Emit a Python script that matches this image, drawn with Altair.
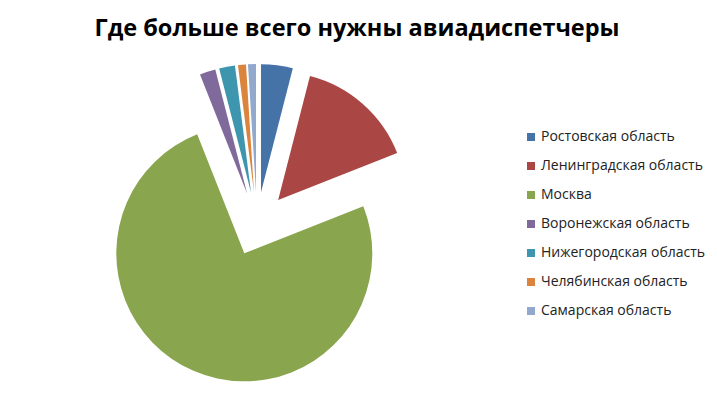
import math
import altair as alt
import pandas as pd

regions = [
    "Ростовская область",
    "Ленинградская область",
    "Москва",
    "Воронежская область",
    "Нижегородская область",
    "Челябинская область",
    "Самарская область",
]
values = [4, 15, 75, 2, 2, 1, 1]
colors = ["#4572A7", "#AA4643", "#89A54E", "#80699B", "#3D96AE", "#DB843D", "#92A8CD"]
title_text = "Где больше всего нужны авиадиспетчеры"

df = pd.DataFrame({"region": regions, "value": values, "order": list(range(len(regions)))})
total = sum(values)

W, H = 701, 381
CX, CY, R, EXPLODE = 249, 216, 128, 32

pie = (
    alt.Chart(df)
    .transform_window(cum="sum(value)", sort=[alt.SortField("order")], frame=[None, 0])
    .transform_calculate(
        start="datum.cum - datum.value",
        mid=f"(datum.cum - datum.value / 2) / {total} * 2 * PI",
    )
    .transform_calculate(
        cx=f"{CX} + {EXPLODE} * sin(datum.mid)",
        cy=f"{CY} - {EXPLODE} * cos(datum.mid)",
    )
    .mark_arc(radius=R, stroke=None)
    .encode(
        theta=alt.Theta("start:Q", scale=alt.Scale(domain=[0, total], range=[0, 2 * math.pi])),
        theta2="cum:Q",
        x=alt.X("cx:Q", scale=None, axis=None),
        y=alt.Y("cy:Q", scale=None, axis=None),
        color=alt.Color(
            "region:N",
            scale=alt.Scale(domain=regions, range=colors),
            sort=regions,
            legend=alt.Legend(
                title=None,
                orient="none",
                legendX=516,
                legendY=122,
                symbolType="square",
                symbolSize=64,
                symbolStrokeWidth=0,
                labelFont="Open Sans",
                labelFontSize=14,
                labelColor="#222222",
                labelLimit=300,
                rowPadding=15,
                labelOffset=3,
            ),
        ),
        order=alt.Order("order:Q"),
    )
)

title = (
    alt.Chart(pd.DataFrame({"t": [title_text]}))
    .mark_text(font="Open Sans", fontSize=23.5, fontWeight="bold", color="#000000", baseline="alphabetic", align="center")
    .encode(text="t:N", x=alt.value(349), y=alt.value(28))
)

chart = (
    alt.layer(pie, title)
    .properties(width=W, height=H, padding=0, autosize=alt.AutoSizeParams(type="none"))
    .configure_view(stroke=None)
)

chart.save("out.html", embed_options={"renderer": "svg", "actions": False})
